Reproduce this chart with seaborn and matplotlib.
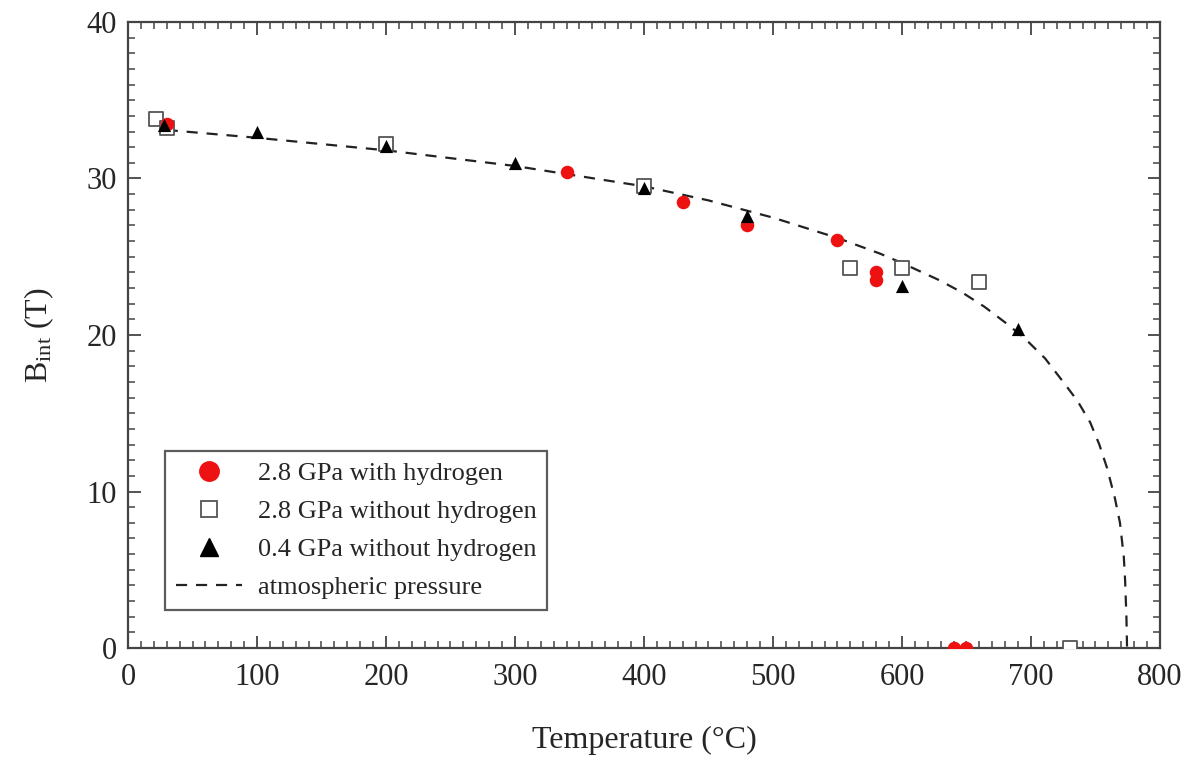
import numpy as np
import pandas as pd
import matplotlib
matplotlib.use("Agg")
import matplotlib.pyplot as plt
from matplotlib.ticker import MultipleLocator
from matplotlib.lines import Line2D
import seaborn as sns

# Data
h28_temp = [30, 340, 430, 480, 550, 580, 580, 640, 650]
h28_bint = [33.5, 30.4, 28.5, 27.0, 26.1, 24.0, 23.5, 0.0, 0.0]

noh28_temp = [22, 30, 200, 400, 560, 600, 660, 730]
noh28_bint = [33.8, 33.2, 32.2, 29.5, 24.3, 24.3, 23.4, 0.0]

noh04_temp = [28, 100, 200, 300, 400, 480, 600, 690]
noh04_bint = [33.4, 33.0, 32.1, 31.0, 29.4, 27.6, 23.1, 20.4]

atm_temp = [30, 100, 200, 300, 400, 450, 500, 550, 583, 600, 629, 647, 664,
            680, 695, 711, 725, 736, 746, 753, 759, 765, 769, 772, 773, 774, 774.5]
atm_bint = [33.1, 32.6, 31.8, 30.8, 29.5, 28.6, 27.5, 26.2, 25.2, 24.6, 23.5,
            22.7, 21.8, 20.8, 19.8, 18.5, 17.0, 15.8, 14.4, 13.0, 11.5, 9.6,
            8.0, 5.8, 4.3, 2.0, 0.0]

labels = ["2.8 GPa with hydrogen", "2.8 GPa without hydrogen",
          "0.4 GPa without hydrogen", "atmospheric pressure"]

sns.set_style("ticks")
plt.rcParams["font.family"] = ["Liberation Serif", "DejaVu Serif"]
plt.rcParams["mathtext.fontset"] = "custom"
plt.rcParams["mathtext.rm"] = "Liberation Serif"
plt.rcParams["mathtext.it"] = "Liberation Serif:italic"

fig = plt.figure(figsize=(11.93, 7.58), dpi=100)
ax = fig.add_axes([0.1073, 0.1451, 0.8650, 0.8259])

atm = pd.DataFrame({"T": atm_temp, "B": atm_bint})
sns.lineplot(data=atm, x="T", y="B", ax=ax, color="#222222", lw=1.6,
             linestyle=(0, (5, 4)), sort=False, estimator=None)

sns.scatterplot(x=noh28_temp, y=noh28_bint, ax=ax, marker="s", s=115,
                facecolor="white", edgecolor="#555555", linewidth=1.3, zorder=3)
sns.scatterplot(x=h28_temp, y=h28_bint, ax=ax, marker="o", s=95,
                color="#ee1111", edgecolor="#ee1111", linewidth=0, zorder=4)
sns.scatterplot(x=noh04_temp, y=noh04_bint, ax=ax, marker="^", s=90,
                color="black", edgecolor="black", linewidth=0, zorder=5)

ax.set_xlim(0, 800)
ax.set_ylim(0, 40)
ax.xaxis.set_major_locator(MultipleLocator(100))
ax.xaxis.set_minor_locator(MultipleLocator(10))
ax.yaxis.set_major_locator(MultipleLocator(10))
ax.yaxis.set_minor_locator(MultipleLocator(1))
ax.tick_params(which="both", direction="in", top=True, right=True,
               color="#444444", labelsize=22)
ax.tick_params(axis="x", which="both", pad=11)
ax.tick_params(axis="y", which="both", pad=8)
ax.tick_params(which="major", length=9, width=1.3)
ax.tick_params(which="minor", length=5, width=1.1)
for sp in ax.spines.values():
    sp.set_color("#444444")
    sp.set_linewidth(1.6)

ax.set_xlabel("Temperature (°C)", fontsize=23, labelpad=24)
ax.set_ylabel(r"B$_{\rm int}$ (T)", fontsize=23, labelpad=22)

handles = [
    Line2D([], [], ls="none", marker="o", ms=14, color="#ee1111"),
    Line2D([], [], ls="none", marker="s", ms=12, mfc="white", mec="#555555", mew=1.3),
    Line2D([], [], ls="none", marker="^", ms=13, color="black"),
    Line2D([], [], color="#222222", lw=1.6, ls=(0, (5, 4))),
]
leg = ax.legend(handles, labels, loc="lower left", bbox_to_anchor=(0.036, 0.061),
                borderaxespad=0, fontsize=19, fancybox=False, frameon=True,
                handlelength=2.5, handletextpad=0.6, labelspacing=0.55,
                borderpad=0.4)
leg.get_frame().set_edgecolor("#333333")
leg.get_frame().set_linewidth(1.6)

fig.savefig("out.png", dpi=100)
